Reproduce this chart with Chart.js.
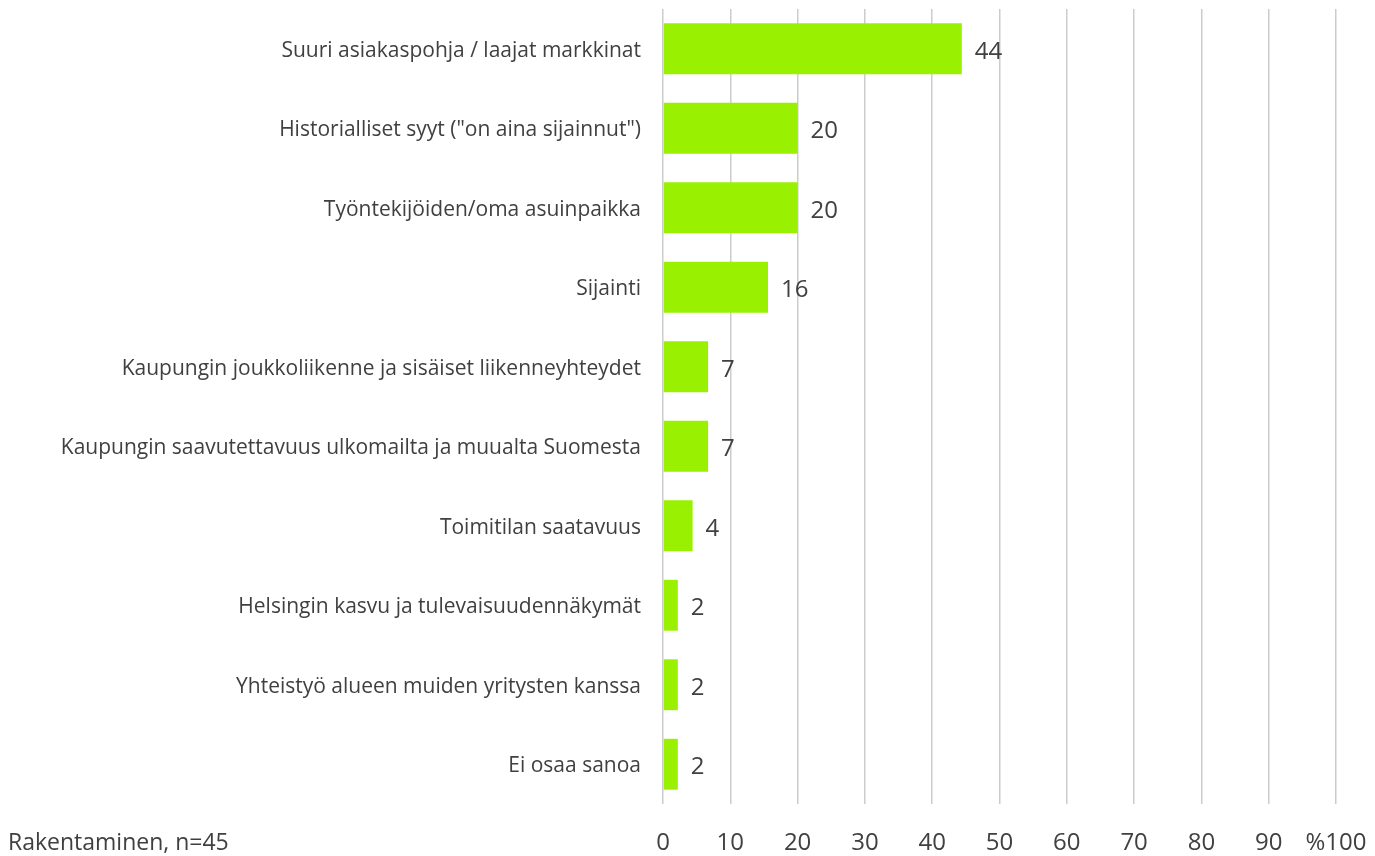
<!DOCTYPE html>
<html>
<head>
<meta charset="utf-8">
<script src="https://cdn.jsdelivr.net/npm/chart.js@4"></script>
<style>
  html, body { margin: 0; padding: 0; background: #fff; }
</style>
</head>
<body>
<canvas id="chart" width="1375" height="856"></canvas>
<script>
const categories = [
  'Suuri asiakaspohja / laajat markkinat',
  'Historialliset syyt ("on aina sijainnut")',
  'Työntekijöiden/oma asuinpaikka',
  'Sijainti',
  'Kaupungin joukkoliikenne ja sisäiset liikenneyhteydet',
  'Kaupungin saavutettavuus ulkomailta ja muualta Suomesta',
  'Toimitilan saatavuus',
  'Helsingin kasvu ja tulevaisuudennäkymät',
  'Yhteistyö alueen muiden yritysten kanssa',
  'Ei osaa sanoa'
];
const shares = [44.4, 20.0, 20.0, 15.6, 6.7, 6.7, 4.4, 2.2, 2.2, 2.2];
const shownLabels = ['44', '20', '20', '16', '7', '7', '4', '2', '2', '2'];
const tickLabels = ['0', '10', '20', '30', '40', '50', '60', '70', '80', '90', '%100'];
const footNote = 'Rakentaminen, n=45';

const FONT = '"Open Sans", "Noto Sans", sans-serif';
const TEXT = '#404040';

const valueLabels = {
  id: 'valueLabels',
  afterDatasetsDraw(chart) {
    const { ctx } = chart;
    const meta = chart.getDatasetMeta(0);
    ctx.save();
    ctx.font = '24px ' + FONT;
    ctx.fillStyle = TEXT;
    ctx.textAlign = 'left';
    ctx.textBaseline = 'middle';
    meta.data.forEach((bar, i) => {
      ctx.fillText(shownLabels[i], bar.x + 13, bar.y + 3);
    });
    ctx.restore();
  }
};

const footNotePlugin = {
  id: 'footNote',
  afterDraw(chart) {
    const { ctx } = chart;
    ctx.save();
    ctx.font = '23px ' + FONT;
    ctx.fillStyle = TEXT;
    ctx.textAlign = 'left';
    ctx.textBaseline = 'middle';
    ctx.fillText(footNote, 8, 843);
    ctx.restore();
  }
};

new Chart(document.getElementById('chart'), {
  type: 'bar',
  plugins: [valueLabels, footNotePlugin],
  data: {
    labels: categories,
    datasets: [{
      data: shares,
      backgroundColor: '#99F000',
      barPercentage: 0.64,
      categoryPercentage: 1
    }]
  },
  options: {
    indexAxis: 'y',
    responsive: false,
    animation: false,
    layout: { padding: { top: 9, right: 39, left: 0, bottom: 0 } },
    plugins: {
      legend: { display: false },
      tooltip: { enabled: false }
    },
    scales: {
      x: {
        min: 0,
        max: 100,
        afterFit(scale) {
          scale.height = 52;
          scale.paddingLeft = 0;
          scale.paddingRight = 0;
        },
        afterBuildTicks(scale) {
          scale.ticks = tickLabels.map((t, i) => ({ value: i * 10 }));
        },
        ticks: {
          callback: (v, i) => tickLabels[i],
          color: TEXT,
          font: { family: FONT, size: 24 },
          padding: 25,
          maxRotation: 0
        },
        grid: { color: '#cccccc', lineWidth: 1.5, drawTicks: false },
        border: { display: false }
      },
      y: {
        afterFit(scale) {
          scale.width = 663;
          scale.paddingTop = 0;
          scale.paddingBottom = 0;
        },
        ticks: {
          color: TEXT,
          font: { family: FONT, size: 21 },
          padding: 22,
          labelOffset: 2
        },
        grid: { display: false, drawTicks: false },
        border: { display: false }
      }
    }
  }
});
</script>
</body>
</html>
